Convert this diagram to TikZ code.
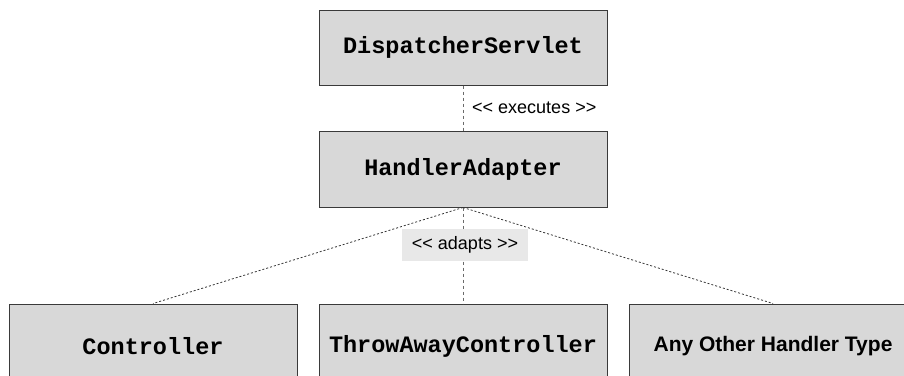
\documentclass[tikz,border=0pt]{standalone}
\usepackage{fontspec}
\setmainfont{Liberation Sans}
\newfontfamily\codefont{Liberation Mono}
\definecolor{boxfill}{HTML}{D8D8D8}
\definecolor{boxline}{HTML}{3A3A3A}
\definecolor{tagfill}{HTML}{E8E8E8}
\definecolor{linkgray}{HTML}{6A6A6A}
\definecolor{linkdark}{HTML}{333333}
\tikzset{
  classbox/.style={draw=boxline, fill=boxfill, line width=1pt,
    minimum width=288pt, minimum height=75pt, inner sep=0pt,
    font=\codefont\bfseries\fontsize{23.5}{28}\selectfont},
  leafbox/.style={classbox, minimum height=84pt},
  plainbox/.style={leafbox, font=\bfseries\fontsize{21}{25}\selectfont},
  stereo/.style={font=\fontsize{18}{22}\selectfont, inner sep=0pt},
  tagbox/.style={stereo, fill=tagfill, minimum width=126pt, minimum height=32pt},
  execlink/.style={draw=linkgray, line width=1pt, dash pattern=on 3pt off 3pt},
  adaptlink/.style={draw=linkdark, line width=0.8pt, dash pattern=on 2pt off 2pt},
}
\begin{document}
\begin{tikzpicture}[x=1pt, y=-1pt]
  \useasboundingbox (0,0) rectangle (904,375);
  \clip (0,0) rectangle (904,375);

  % class boxes
  \node[classbox] (ds) at (463,47.5) {DispatcherServlet};
  \node[classbox, minimum height=76pt] (ha) at (463,169) {HandlerAdapter};
  \node[leafbox] (ctl) at (153,346) {Controller};
  \node[leafbox] (tac) at (463,346) {ThrowAwayController};
  \node[plainbox] (any) at (773,346) {Any Other Handler Type};

  % executes relation
  \draw[execlink] (ds.south) -- (ha.north);
  \node[stereo, anchor=west] (exec) at (472,108) {{<}{<} executes {>}{>}};

  % adapts relations
  \draw[adaptlink] (ha.south) -- (ctl.north);
  \draw[adaptlink] (ha.south) -- (any.north);
  \draw[execlink] (ha.south) -- (tac.north);
  \node[tagbox] (adapts) at (465,245) {{<}{<} adapts {>}{>}};
\end{tikzpicture}
\end{document}
